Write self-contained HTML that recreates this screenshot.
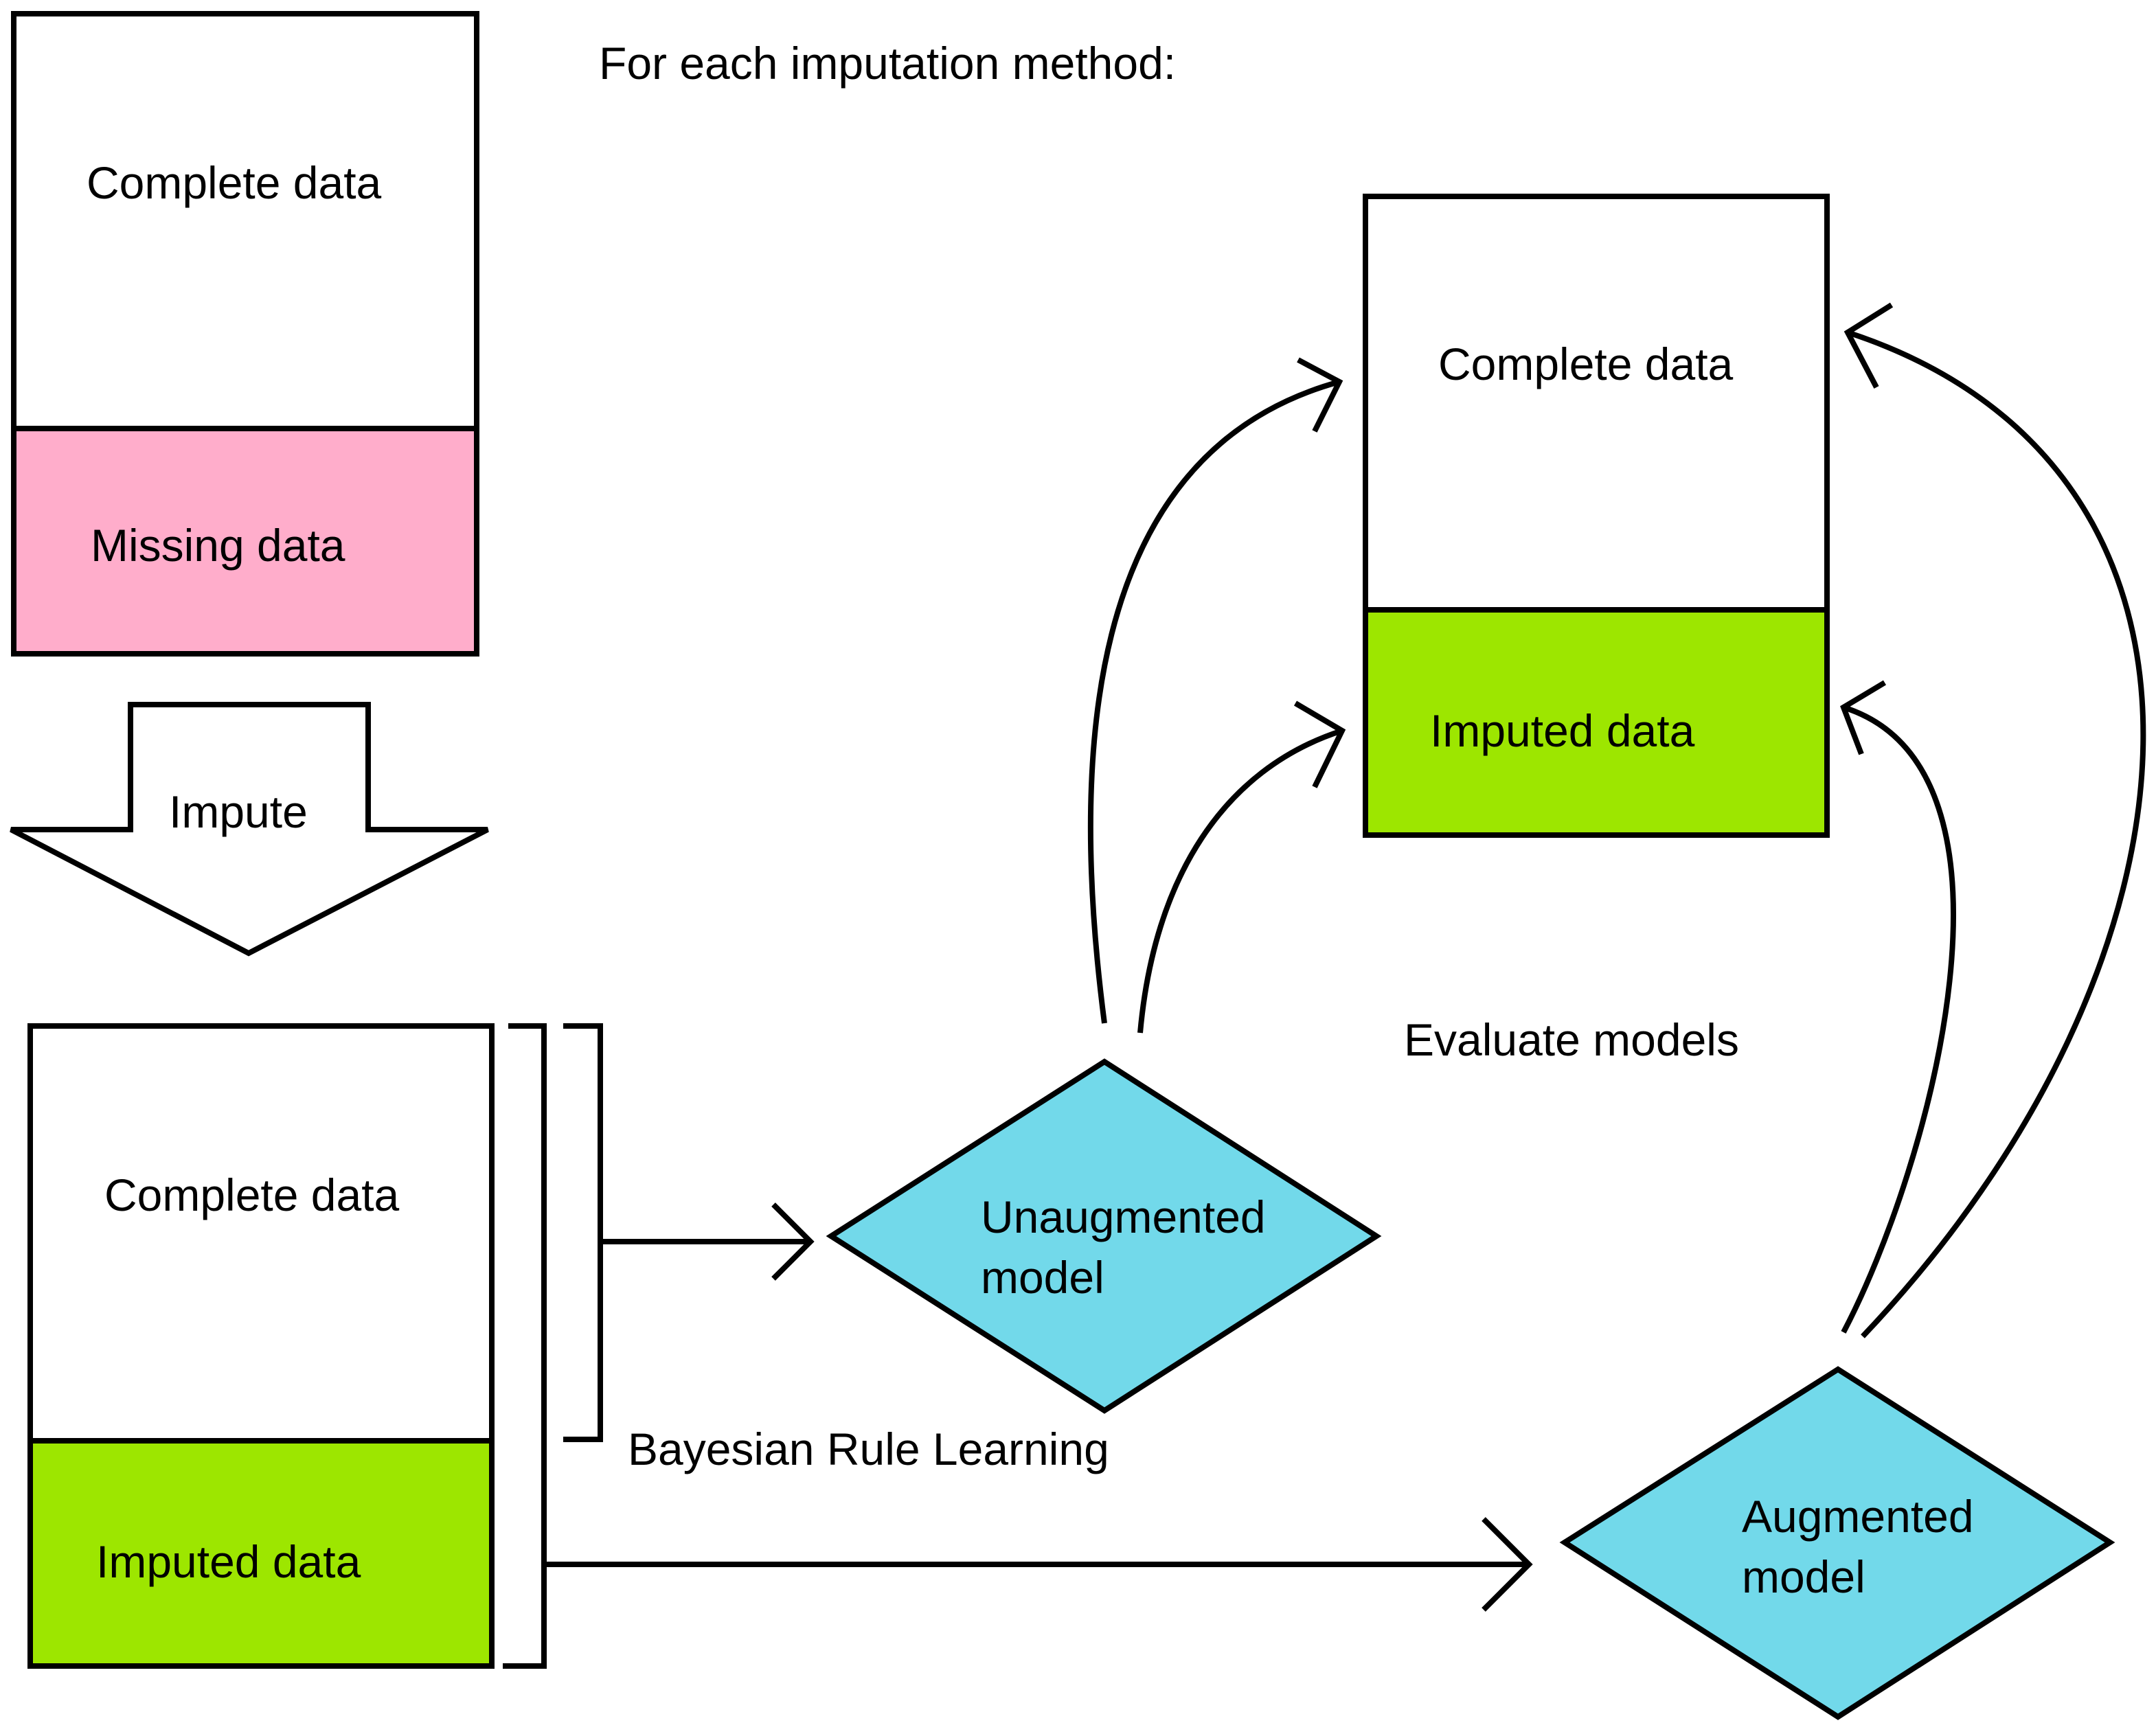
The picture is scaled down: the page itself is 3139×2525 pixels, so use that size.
<!DOCTYPE html>
<html><head><meta charset="utf-8"><style>
html,body{margin:0;padding:0;background:#fff;}
svg{display:block;}
text{font-family:"Liberation Sans",sans-serif;font-size:33px;fill:#000;dominant-baseline:central;}
</style></head><body>
<svg width="3139" height="2525" viewBox="0 0 1569.5 1262.5" xmlns="http://www.w3.org/2000/svg">
<g stroke="#000" stroke-width="4" fill="none" stroke-linejoin="miter">
<rect x="10" y="312" width="337" height="164" fill="#FFADCB"/>
<rect x="10" y="10" width="337" height="466"/>
<line x1="10" y1="312" x2="347" y2="312"/>
<polygon points="95,513 268,513 268,604 355,604 181,694 8,604 95,604" fill="#fff"/>
<rect x="22" y="1049" width="336" height="164" fill="#9DE600"/>
<rect x="22" y="747" width="336" height="466"/>
<line x1="22" y1="1049" x2="358" y2="1049"/>
<polyline points="370,747 396,747 396,1213 366,1213"/>
<polyline points="410,747 437,747 437,1048 410,1048"/>
<line x1="437" y1="904" x2="590" y2="904"/>
<polyline points="563,877 590,904 563,931"/>
<line x1="396" y1="1139" x2="1113" y2="1139"/>
<polyline points="1080,1106 1113,1139 1080,1172"/>
<polygon points="605,900 804,773 1002,900 804,1027" fill="#72D9EA"/>
<polygon points="1139,1123 1338,997 1536,1123 1338,1250" fill="#72D9EA"/>
<rect x="994" y="444" width="336" height="164" fill="#9DE600"/>
<rect x="994" y="143" width="336" height="465"/>
<line x1="994" y1="444" x2="1330" y2="444"/>
<path d="M804,745 C780,560 785,330 975,278"/>
<polyline points="945,262 975,278 957,314"/>
<path d="M830,752 C840,640 890,560 977,532"/>
<polyline points="943,512 977,532 957,573"/>
<path d="M1356,973 C1615,700 1645,340 1345,242"/>
<polyline points="1377,222 1345,242 1366,282"/>
<path d="M1342,970 C1405,850 1485,560 1342,515"/>
<polyline points="1372,497 1342,515 1355,549"/>
</g>
<text x="436" y="46">For each imputation method:</text>
<text x="63" y="133">Complete data</text>
<text x="66" y="397">Missing data</text>
<text x="123" y="591">Impute</text>
<text x="76" y="870">Complete data</text>
<text x="70" y="1137">Imputed data</text>
<text x="714" y="886">Unaugmented</text>
<text x="714" y="930">model</text>
<text x="457" y="1055">Bayesian Rule Learning</text>
<text x="1268" y="1104">Augmented</text>
<text x="1268" y="1148">model</text>
<text x="1022" y="757">Evaluate models</text>
<text x="1047" y="265">Complete data</text>
<text x="1041" y="532">Imputed data</text>
</svg>
</body></html>
